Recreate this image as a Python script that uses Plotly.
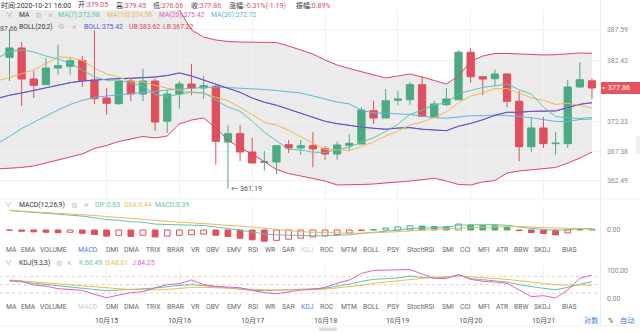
import pandas as pd
import plotly.graph_objects as go

# ---------------------------------------------------------------- data
# 4-hour candles, last bar 2020-10-21 16:00
times = pd.date_range(end="2020-10-21 16:00", periods=49, freq="4h")
# overlay indicators carry one extra leading bar so they reach the left edge
line_times = pd.date_range(end="2020-10-21 16:00", periods=50, freq="4h")

open_ = [382.95, 384.49, 379.35, 378.41, 381.17, 381.46, 382.38, 379.19, 376.20, 375.26,
         379.02, 376.86, 379.02, 372.34, 376.86, 378.52, 377.86, 378.14, 368.91, 370.28,
         367.25, 365.54, 365.59, 368.46, 367.91, 368.29, 367.80, 366.92, 368.36, 368.57,
         374.10, 372.89, 375.82, 375.92, 378.41, 373.05, 375.09, 375.92, 383.78, 379.73,
         379.40, 380.18, 375.65, 368.13, 371.23, 368.63, 368.63, 378.02, 379.05]
high = [387.66, 385.48, 380.68, 382.83, 385.04, 383.00, 383.16, 387.40, 377.86, 379.19,
        379.52, 381.06, 379.40, 377.53, 379.07, 381.84, 379.85, 378.41, 371.68, 371.72,
        369.57, 367.41, 368.35, 369.24, 369.24, 370.56, 368.24, 369.02, 370.23, 374.71,
        375.75, 377.69, 377.41, 378.85, 379.80, 375.75, 377.86, 384.11, 384.49, 379.80,
        380.89, 380.25, 377.36, 373.05, 373.05, 370.56, 379.23, 382.12, 379.45]
low = [379.02, 374.87, 376.20, 378.36, 380.06, 380.06, 378.02, 375.21, 373.43, 375.04,
       375.70, 375.70, 370.73, 370.40, 374.43, 376.65, 376.04, 365.14, 361.19, 365.76,
       365.35, 364.15, 363.60, 367.08, 366.75, 364.71, 365.97, 365.97, 367.37, 368.50,
       371.89, 372.85, 374.99, 375.09, 373.10, 372.89, 374.83, 375.85, 378.69, 376.65,
       378.14, 374.66, 365.71, 367.25, 367.91, 366.80, 367.91, 377.95, 376.06]
close = [384.49, 379.35, 378.31, 381.17, 381.56, 382.38, 379.07, 376.08, 375.32, 378.97,
         376.86, 379.02, 372.22, 376.86, 378.52, 377.86, 378.24, 369.02, 370.28, 367.25,
         365.43, 365.62, 368.29, 367.91, 368.29, 367.75, 366.92, 368.41, 368.69, 374.21,
         372.89, 375.75, 376.04, 378.41, 373.17, 375.21, 376.04, 383.78, 379.73, 379.35,
         380.18, 375.65, 368.13, 371.23, 368.63, 368.70, 378.02, 379.23, 377.86]

ma7 = [382.83, 383.88, 384.16, 383.83, 383.16, 382.66, 381.98, 380.90, 379.70, 379.13,
       379.22, 378.61, 378.24, 376.79, 376.48, 376.82, 377.19, 377.08, 375.96, 374.71,
       374.00, 372.37, 370.53, 369.16, 367.69, 367.58, 367.22, 367.17, 367.60, 368.04,
       368.88, 369.59, 370.66, 371.84, 373.49, 374.17, 375.10, 375.36, 376.91, 377.48,
       377.96, 378.21, 378.56, 377.55, 376.86, 374.70, 373.12, 372.93, 372.80, 372.98]
ma10 = [379.02, 379.60, 380.18, 380.84, 381.92, 383.00, 382.92, 382.42, 381.17, 380.18,
        379.67, 378.91, 378.87, 378.27, 377.83, 377.53, 377.08, 377.00, 376.29, 375.79,
        374.61, 373.47, 372.13, 371.74, 370.84, 369.82, 368.81, 367.68, 367.62, 367.46,
        368.15, 368.90, 369.91, 370.69, 371.74, 372.22, 372.97, 373.88, 375.42, 376.52,
        377.04, 377.77, 377.76, 376.97, 376.25, 375.79, 375.14, 375.34, 374.89, 374.56]
ma20 = [376.12, 376.66, 377.03, 377.44, 377.86, 378.36, 378.74, 379.02, 379.19, 379.30,
        379.43, 379.47, 379.52, 379.68, 379.93, 380.35, 379.85, 379.19, 378.52, 377.86,
        377.14, 376.19, 375.50, 375.00, 374.34, 373.67, 372.94, 372.34, 371.95, 371.62,
        371.38, 371.18, 371.02, 371.21, 371.29, 371.02, 370.89, 370.78, 371.52, 371.99,
        372.59, 373.33, 373.83, 373.83, 373.99, 374.01, 374.06, 374.61, 375.15, 375.42]
ma30 = [368.66, 369.82, 371.14, 372.22, 373.21, 374.21, 375.12, 375.79, 376.29, 376.53,
        376.70, 376.86, 377.11, 377.28, 377.53, 377.69, 377.86, 377.94, 378.02, 377.94,
        377.86, 377.78, 377.61, 377.44, 377.28, 377.03, 376.53, 376.04, 375.54, 375.21,
        374.15, 373.76, 373.64, 373.56, 373.47, 373.19, 372.95, 372.85, 373.11, 373.25,
        373.27, 373.38, 373.27, 373.13, 372.94, 372.61, 372.31, 372.30, 372.64, 372.72]
boll_mid = ma20
boll_ub = [392.6, 392.9, 393.1, 393.3, 393.4, 393.4, 393.3, 393.1, 392.9, 392.6,
           392.3, 392.0, 391.7, 391.4, 391.1, 390.8, 387.47, 386.31, 385.82, 385.57,
           385.48, 385.48, 385.48, 385.40, 384.82, 384.15, 383.49, 382.50, 381.67, 381.09,
           380.59, 380.01, 379.52, 379.85, 380.18, 379.68, 379.10, 378.52, 379.85, 382.25,
           383.16, 383.58, 383.58, 383.49, 383.41, 383.33, 383.38, 383.49, 383.66, 383.62]
boll_lb = [364.44, 364.51, 364.68, 364.93, 365.42, 365.84, 366.34, 366.92, 367.83, 368.33,
           368.99, 369.40, 369.82, 369.57, 369.90, 371.89, 372.55, 372.89, 371.23, 369.24,
           367.91, 366.92, 365.59, 364.35, 363.68, 363.27, 362.86, 362.44, 361.78, 361.78,
           361.86, 361.94, 362.06, 362.28, 362.44, 362.69, 362.89, 362.44, 361.86, 361.78,
           362.28, 362.52, 363.77, 364.10, 364.26, 364.43, 364.68, 365.42, 366.25, 367.22]

macd_hist = [-0.1, -0.6, -0.9, -1.1, -1.3, -1.1, -1.6, -2.2, -3.0, -2.6,
             -3.1, -2.6, -3.4, -3.0, -2.6, -2.3, -2.0, -2.6, -3.2, -4.0,
             -4.8, -5.5, -5.1, -4.5, -4.0, -3.4, -2.9, -2.3, -1.5, -0.3,
             0.2, 1.0, 1.5, 2.1, 1.9, 1.7, 1.6, 2.9, 2.5, 2.3,
             2.1, 1.3, -0.3, -1.2, -1.7, -2.4, -1.4, 0.2, 0.39]
macd_dif = [9.55, 8.98, 8.55, 8.17, 7.75, 7.45, 6.80, 6.02, 5.10, 4.78,
            4.05, 3.82, 2.90, 2.70, 2.50, 2.37, 2.20, 1.50, 0.80, -0.08,
            -1.00, -1.95, -2.35, -2.57, -2.80, -2.82, -2.85, -2.67, -2.35, -1.67,
            -1.30, -0.62, -0.05, 0.65, 0.95, 1.17, 1.40, 2.37, 2.45, 2.55,
            2.65, 2.29, 1.45, 0.80, 0.35, -0.20, 0.10, 0.70, 0.63]
macd_dea = [9.60, 9.28, 9.00, 8.72, 8.40, 8.00, 7.60, 7.12, 6.60, 6.08,
            5.60, 5.12, 4.60, 4.20, 3.80, 3.52, 3.20, 2.80, 2.40, 1.92,
            1.40, 0.80, 0.20, -0.32, -0.80, -1.12, -1.40, -1.52, -1.60, -1.52,
            -1.40, -1.12, -0.80, -0.40, 0.00, 0.32, 0.60, 0.92, 1.20, 1.40,
            1.60, 1.64, 1.60, 1.40, 1.20, 1.00, 0.80, 0.60, 0.44]

kdj_k = [64, 59.5, 55, 50, 46, 43, 38, 33, 28.6, 31,
         32, 35.5, 38, 43, 47.5, 50, 47.5, 43, 38, 33,
         30, 28.6, 30, 31, 32, 33, 37, 45, 52, 62,
         69, 71.5, 74, 81, 76, 74, 76, 84.5, 71.5, 68,
         64, 59.5, 50, 43, 37, 32, 40.5, 52, 60.49]
kdj_d = [66.8, 63, 59.5, 56, 52, 50, 46, 43, 38, 35.5,
         33, 31, 31, 33, 37, 40.5, 40.5, 40.5, 38, 35.5,
         33, 32, 31, 31, 32, 33, 34, 38, 42, 47.5,
         55, 59.5, 64, 69, 74, 77, 78.4, 80, 78.4, 76,
         72.6, 69, 64, 59.5, 54.8, 50, 48.7, 50, 48.61]
kdj_j = [64, 62.5, 48.7, 45, 35.7, 32, 30, 15.5, 3.5, 13,
         21.6, 25, 39, 50, 53.5, 66.8, 50, 44, 41.5, 39,
         30, 21.6, 17.9, 25, 31, 33, 40.5, 54.8, 66.8, 90.5,
         101, 102, 102, 104.5, 88, 72.6, 71.5, 86.5, 69, 62.5,
         59.5, 54.8, 31, 7.3, 10.8, 2.3, 31, 72.6, 84.25]
kdj_levels = [20, 50, 80]

price_ticks = [387.59, 382.43, 372.33, 367.38, 362.49]
day_ticks = pd.date_range("2020-10-15", "2020-10-21", freq="D")
tab_names = ["MA", "EMA", "VOLUME", "MACD", "DMI", "DMA", "TRIX", "BRAR", "VR", "OBV",
             "EMV", "RSI", "WR", "SAR", "KDJ", "ROC", "MTM", "BOLL", "PSY", "StochRSI",
             "SMI", "CCI", "MFI", "ATR", "BBW", "SKDJ", "BIAS"]

# ---------------------------------------------------------------- style
W, H, PLOT_W = 640, 333, 600
FONT = "Roboto, 'Noto Sans CJK SC', 'DejaVu Sans', sans-serif"
C_UP, C_DOWN = "#4caa83", "#e04f5d"
C_MA7, C_MA10, C_MA20, C_MA30 = "#5cc4b0", "#efb956", "#df5fc6", "#5eb6df"
C_BOLL, C_BAND, C_FILL = "#4d58c8", "#e2465a", "#ebebeb"
C_TEXT, C_DIM, C_ICON, C_ACTIVE = "#333333", "#8a8a8a", "#bdbdbd", "#3f7fe0"
GRID = "#f1f1f1"
LEG = 6.8  # legend text size
tab_x = [11, 28, 53, 88, 111.5, 131.5, 153, 175.5, 195.5, 213, 234, 253, 270, 288.5,
         307, 327.5, 349, 371.5, 393, 421, 448, 465.5, 483.5, 502, 521, 542, 569]


def px(x):
    return x / PLOT_W


def py(y):
    return 1 - y / H


annotations = []


def label(text, x, y, color=C_TEXT, size=LEG, anchor="left"):
    annotations.append(dict(text=text, x=px(x), y=py(y), xref="paper", yref="paper",
                            xanchor=anchor, yanchor="middle", showarrow=False, borderpad=0,
                            font=dict(size=size, color=color, family=FONT)))


fig = go.Figure()

# ---------------------------------------------------------------- price panel
fig.add_trace(go.Candlestick(
    x=times, open=open_, high=high, low=low, close=close, whiskerwidth=0,
    increasing=dict(line=dict(color=C_UP, width=1), fillcolor=C_UP),
    decreasing=dict(line=dict(color=C_DOWN, width=1), fillcolor=C_DOWN),
    xaxis="x", yaxis="y", hoverinfo="none"))


def add_line(x, y, color, ax="", width=1.0):
    fig.add_trace(go.Scatter(x=x, y=y, mode="lines", line=dict(color=color, width=width),
                             xaxis="x" + ax, yaxis="y" + ax, hoverinfo="skip"))


add_line(line_times, boll_ub, C_BAND)
add_line(line_times, boll_lb, C_BAND)
add_line(line_times, ma30, C_MA30)
add_line(line_times, ma20, C_MA20)
add_line(line_times, boll_mid, C_BOLL)
add_line(line_times, ma10, C_MA10)
add_line(line_times, ma7, C_MA7)


# Bollinger band area drawn beneath the grid and the candles
def ms(t):
    return t.value // 10**6


band_pts = [f"{ms(t)},{v}" for t, v in zip(line_times, boll_ub)]
band_pts += [f"{ms(t)},{v}" for t, v in zip(line_times[::-1], boll_lb[::-1])]
shapes = [dict(type="path", path="M " + " L ".join(band_pts) + " Z", xref="x", yref="y",
               fillcolor=C_FILL, line=dict(width=0), layer="below")]

# ---------------------------------------------------------------- MACD panel
bar_fill, bar_edge = [], []
for i, v in enumerate(macd_hist):
    edge = C_UP if v >= 0 else C_DOWN
    rising = i > 0 and v > macd_hist[i - 1]
    bar_edge.append(edge)
    bar_fill.append("#ffffff" if rising else edge)
bar_w = pd.Timedelta(hours=1.9).total_seconds() * 1000
fig.add_trace(go.Bar(x=times, y=macd_hist, width=bar_w,
                     marker=dict(color=bar_fill, line=dict(color=bar_edge, width=1)),
                     xaxis="x2", yaxis="y2", hoverinfo="skip"))
add_line(times, macd_dif, C_MA7, "2")
add_line(times, macd_dea, C_MA10, "2")

# ---------------------------------------------------------------- KDJ panel
for lvl in kdj_levels:
    shapes.append(dict(type="line", xref="x3 domain", x0=0, x1=1, yref="y3", y0=lvl, y1=lvl,
                       line=dict(color="#f0c3c3", width=1, dash="3px,3px"), layer="below"))
add_line(times, kdj_k, C_MA7, "3")
add_line(times, kdj_d, C_MA10, "3")
add_line(times, kdj_j, C_MA20, "3")

# ---------------------------------------------------------------- frame pieces
shapes += [
    dict(type="line", xref="paper", yref="paper", x0=px(600.5), x1=px(600.5),
         y0=py(326), y1=1, line=dict(color="#ececec", width=1)),
    dict(type="line", xref="paper", yref="paper", x0=0, x1=px(W), y0=py(199), y1=py(199),
         line=dict(color="#efefef", width=1)),
    dict(type="line", xref="paper", yref="paper", x0=0, x1=px(W), y0=py(326), y1=py(326),
         line=dict(color="#efefef", width=1)),
    dict(type="rect", xref="paper", yref="paper", x0=px(319), x1=px(337), y0=py(331),
         y1=py(327.5), fillcolor="#dedede", line=dict(width=0)),
    dict(type="rect", xref="paper", yref="paper", x0=px(636), x1=px(641), y0=py(154),
         y1=py(136), fillcolor="#eeeeee", line=dict(width=0)),
]

# last price tag
last = close[-1]
shapes.append(dict(type="rect", xref="paper", yref="y", x0=px(601), x1=px(W),
                   y0=last - 1.0, y1=last + 1.0, fillcolor="#e5535f", line=dict(width=0)))
shapes.append(dict(type="line", xref="paper", yref="y", x0=px(602), x1=px(605),
                   y0=last, y1=last, line=dict(color="#ffffff", width=1)))
annotations.append(dict(text=f"{last:.2f}", x=px(619), y=last, xref="paper", yref="y",
                        xanchor="center", yanchor="middle", showarrow=False, borderpad=0,
                        font=dict(size=7.2, color="#ffffff", family=FONT)))

# extreme markers
i_hi = max(range(len(high)), key=lambda i: high[i])
i_lo = min(range(len(low)), key=lambda i: low[i])
annotations.append(dict(text=f"{high[i_hi]:.2f}", x=times[i_hi], y=high[i_hi], xref="x", yref="y",
                        xanchor="right", yanchor="middle", xshift=9, showarrow=False,
                        borderpad=0, font=dict(size=7, color="#555555", family=FONT)))
annotations.append(dict(text=f"← {low[i_lo]:.2f}", x=times[i_lo], y=low[i_lo], xref="x", yref="y",
                        xanchor="left", yanchor="middle", xshift=2, showarrow=False,
                        borderpad=0, font=dict(size=7.2, color="#555555", family=FONT)))

# ---------------------------------------------------------------- text rows
o, h, l, c = open_[-1], high[-1], low[-1], close[-1]
red = C_DOWN
HDR = 7.0
label(f"时间:{times[-1]:%Y-%m-%d %H:%M}", 0, 5.3, size=HDR)
label(f"开:<span style='color:{red}'>{o:.2f}</span>", 77, 5.3, size=HDR)
label(f"高:<span style='color:{red}'>{h:.2f}</span>", 115, 5.3, size=HDR)
label(f"低:<span style='color:{red}'>{l:.2f}</span>", 152, 5.3, size=HDR)
label(f"收:<span style='color:{red}'>{c:.2f}</span>", 190, 5.3, size=HDR)
label(f"涨幅:<span style='color:{red}'>{(c - o) / o * 100:.2f}%({c - o:.2f})</span>", 228, 5.3, size=HDR)
label(f"振幅:<span style='color:{red}'>{(h - l) / o * 100:.2f}%</span>", 295, 5.3, size=HDR)

label("∨", 9.5, 15.3, C_DIM, 6.5, "center")
label("MA", 18, 15.3)
label("⚙", 38.5, 15.3, C_ICON, 7.5, "center")
label("×", 50, 15.3, C_ICON, 8.5, "center")
label(f"MA(7):{ma7[-1]:.2f}", 57, 15.3, C_MA7)
label(f"MA(10):{ma10[-1]:.2f}", 106, 15.3, C_MA10)
label(f"MA(20):{ma20[-1]:.2f}", 158, 15.3, C_MA20)
label(f"MA(30):{ma30[-1]:.2f}", 210, 15.3, C_MA30)

label("BOLL(20,2)", 18, 26.7)
label("⚙", 61.5, 26.7, C_ICON, 7.5, "center")
label("×", 74, 26.7, C_ICON, 8.5, "center")
label(f"BOLL:{boll_mid[-1]:.2f}", 83, 26.7, C_BOLL)
label(f"UB:{boll_ub[-1]:.2f}", 128, 26.7, C_BAND)
label(f"LB:{boll_lb[-1]:.2f}", 162, 26.7, C_BAND)

label("∨", 8, 205, C_DIM, 6.5, "center")
label("MACD(12,26,9)", 18, 205)
label("⚙", 74, 205, C_ICON, 7.5, "center")
label("×", 86, 205, C_ICON, 8.5, "center")
label(f"DIF:{macd_dif[-1]:.2f}", 94, 205, C_MA7)
label(f"DEA:{macd_dea[-1]:.2f}", 123, 205, C_MA10)
label(f"MACD:{macd_hist[-1]:.2f}", 154, 205, C_MA7)

label("∨", 8, 263.3, C_DIM, 6.5, "center")
label("KDJ(9,3,3)", 18, 263.3)
label("⚙", 59, 263.3, C_ICON, 7.5, "center")
label("×", 69, 263.3, C_ICON, 8.5, "center")
label(f"K:{kdj_k[-1]:.2f}", 78, 263.3, C_MA7)
label(f"D:{kdj_d[-1]:.2f}", 104, 263.3, C_MA10)
label(f"J:{kdj_j[-1]:.2f}", 131, 263.3, C_MA20)

# indicator tab rows
for row_y, active, muted in [(250, "MACD", "KDJ"), (307.3, "KDJ", "MACD")]:
    for name, x in zip(tab_names, tab_x):
        col = C_ACTIVE if name == active else ("#cccccc" if name == muted else "#666666")
        label(name, x, row_y, col, 6.8, "center")

# date labels under the lower panel
for d in day_ticks:
    annotations.append(dict(text=f"{d.month}月{d.day}", x=d, y=py(320), xref="x", yref="paper",
                            xanchor="center", yanchor="middle", showarrow=False, borderpad=0,
                            font=dict(size=7.2, color="#555555", family=FONT)))
label("对数", 591, 320, C_ACTIVE, 7.2, "center")
label("%", 610, 320, "#555555", 7.2, "center")
label("自动", 627, 320, C_ACTIVE, 7.2, "center")

# ---------------------------------------------------------------- axes
x_lo = times[0] - pd.Timedelta(hours=3.13)
x_hi = times[-1] + pd.Timedelta(hours=2.64)
xcommon = dict(type="date", range=[x_lo, x_hi], tickvals=day_ticks, showticklabels=False,
               showgrid=True, gridcolor=GRID, gridwidth=1, zeroline=False, showline=False,
               ticks="", fixedrange=True)
tickfont = dict(size=6.8, color=C_DIM, family=FONT)
ycommon = dict(side="right", zeroline=False, showline=False, ticks="", tickfont=tickfont,
               ticklabelstandoff=6, fixedrange=True)

fig.update_layout(
    width=W, height=H, margin=dict(l=0, r=W - PLOT_W, t=0, b=0),
    paper_bgcolor="#ffffff", plot_bgcolor="#ffffff",
    showlegend=False, hovermode=False, boxgap=0.25, boxgroupgap=0.2,
    xaxis=dict(**xcommon, anchor="y", domain=[0, 1], rangeslider=dict(visible=False)),
    xaxis2=dict(**xcommon, anchor="y2", domain=[0, 1], matches="x"),
    xaxis3=dict(**xcommon, anchor="y3", domain=[0, 1], matches="x"),
    yaxis=dict(**ycommon, domain=[py(198), py(10)], range=[359.62, 390.79],
               tickvals=price_ticks, ticktext=[f"{v:.2f}" for v in price_ticks],
               showgrid=True, gridcolor=GRID),
    yaxis2=dict(**ycommon, domain=[py(244), py(206)], range=[-6.86, 11.76],
                tickvals=[0], ticktext=["0.00"], showgrid=False),
    yaxis3=dict(**ycommon, domain=[py(303), py(266)], range=[-15.4, 116.8],
                tickvals=[0, 100], ticktext=["0.00", "100.00"], showgrid=False),
    shapes=shapes, annotations=annotations,
    font=dict(family=FONT),
)

fig.write_html("out.html")
